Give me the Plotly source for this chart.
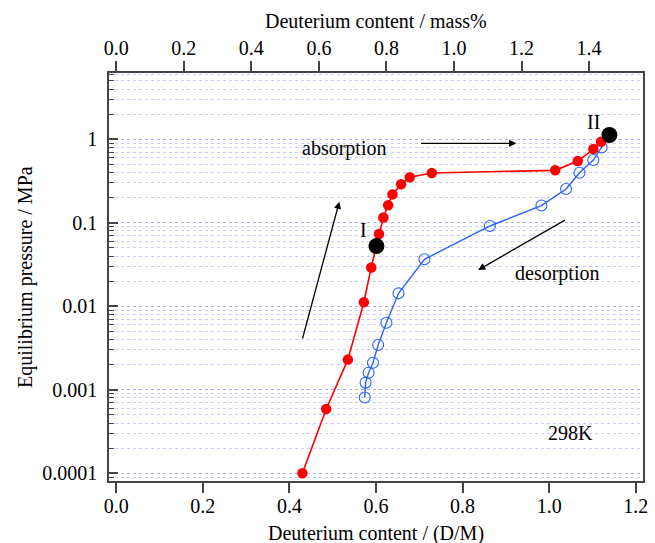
import plotly.graph_objects as go

# ---- data ----
abs_x = [0.430, 0.485, 0.535, 0.572, 0.589, 0.607, 0.617, 0.628, 0.638, 0.658, 0.678, 0.729, 1.014, 1.066, 1.102, 1.120]
abs_p = [1.0e-4, 5.9e-4, 2.3e-3, 0.0112, 0.0292, 0.0734, 0.116, 0.162, 0.219, 0.289, 0.351, 0.395, 0.425, 0.549, 0.765, 0.936]

des_x = [1.139, 1.121, 1.102, 1.070, 1.039, 0.982, 0.863, 0.712, 0.652, 0.624, 0.605, 0.593, 0.583, 0.576, 0.574]
des_p = [1.125, 0.80, 0.565, 0.398, 0.254, 0.161, 0.0916, 0.0366, 0.0143, 0.00636, 0.00344, 0.00211, 0.0016, 0.00122, 0.00081]

key_x = [0.601, 1.139]
key_p = [0.0527, 1.125]
key_labels = ["I", "II"]

x_ticks = [0.0, 0.2, 0.4, 0.6, 0.8, 1.0, 1.2]
top_ticks = [0.0, 0.2, 0.4, 0.6, 0.8, 1.0, 1.2, 1.4]
y_ticks = [1e-4, 1e-3, 1e-2, 1e-1, 1]
y_ticktext = ["0.0001", "0.001", "0.01", "0.1", "1"]
mass_per_dm = 1.2818  # mass% per D/M on the top axis

FONT = "Liberation Serif"
AX = "#444444"
GRID = "rgba(120,120,245,0.38)"
RED = "#ff0000"
BLUE = "#2a62ff"

x_range = [-0.0167, 1.2167]
y_range = [-4.092, 0.794]

fig = go.Figure()
fig.add_trace(go.Scatter(
    x=des_x, y=des_p, mode="lines+markers",
    line=dict(color=BLUE, width=1.4),
    marker=dict(symbol="circle-open", size=11, color=BLUE, line=dict(width=1.1, color=BLUE)),
    showlegend=False))
fig.add_trace(go.Scatter(
    x=abs_x, y=abs_p, mode="lines+markers",
    line=dict(color=RED, width=1.6),
    marker=dict(symbol="circle", size=10.5, color=RED),
    showlegend=False))
fig.add_trace(go.Scatter(
    x=key_x, y=key_p, mode="markers",
    marker=dict(symbol="circle", size=16, color="black"),
    showlegend=False))
# invisible trace that carries the top (mass%) axis
fig.add_trace(go.Scatter(
    x=[v * mass_per_dm for v in abs_x], y=abs_p, xaxis="x2", yaxis="y",
    mode="markers", marker=dict(opacity=0, size=1), hoverinfo="skip", showlegend=False))

fig.update_layout(
    width=655, height=543,
    margin=dict(l=109, r=7, t=73, b=62),
    paper_bgcolor="white", plot_bgcolor="white",
    font=dict(family=FONT, size=20, color="black"),
    xaxis=dict(
        range=x_range, tickvals=x_ticks, ticktext=[f"{v:.1f}" for v in x_ticks],
        ticks="outside", ticklen=10, tickwidth=1.5, tickcolor=AX,
        showline=True, linecolor=AX, linewidth=1.5,
        showgrid=False, zeroline=False, ticklabelstandoff=-4,
        tickfont=dict(family=FONT, size=20, color="black"),
    ),
    xaxis2=dict(
        overlaying="x", side="top", anchor="y",
        range=[x_range[0] * mass_per_dm, x_range[1] * mass_per_dm],
        tickvals=top_ticks, ticktext=[f"{v:.1f}" for v in top_ticks],
        ticks="outside", ticklen=10, tickwidth=1.5, tickcolor=AX,
        showline=True, linecolor=AX, linewidth=1.5,
        showgrid=False, zeroline=False, ticklabelstandoff=-2,
        tickfont=dict(family=FONT, size=20, color="black"),
    ),
    yaxis=dict(
        type="log", range=y_range, tickvals=y_ticks, ticktext=y_ticktext,
        ticks="inside", ticklen=9, tickwidth=1.5, tickcolor=AX,
        showline=True, linecolor=AX, linewidth=1.5, mirror=True,
        showgrid=True, gridcolor=GRID, griddash="dot", gridwidth=1,
        zeroline=False,
        ticklabelstandoff=6,
        tickfont=dict(family=FONT, size=20, color="black"),
        minor=dict(ticks="inside", ticklen=5, tickwidth=1.2, tickcolor=AX,
                   dtick="D1", showgrid=True, gridcolor=GRID, griddash="dot", gridwidth=1),
    ),
)

ann = []
# axis titles
ann.append(dict(text="Deuterium content / (D/M)", xref="paper", yref="paper", x=0.5, y=0,
                yanchor="middle", yshift=-52, showarrow=False))
ann.append(dict(text="Deuterium content / mass%", xref="paper", yref="paper", x=0.5, y=1,
                yanchor="middle", yshift=52, showarrow=False))
ann.append(dict(text="Equilibrium pressure / MPa", xref="paper", yref="paper", x=0, y=0.5,
                xanchor="center", xshift=-84, textangle=-90, showarrow=False))
# in-plot texts (y given as log10 for log axis)
ann.append(dict(text="absorption", x=0.5256, y=-0.105, xref="x", yref="y", showarrow=False))
ann.append(dict(text="desorption", x=1.019, y=-1.605, xref="x", yref="y", showarrow=False))
ann.append(dict(text="298K", x=1.0497, y=-3.521, xref="x", yref="y", showarrow=False))
ann.append(dict(text=key_labels[0], x=0.5714, y=-1.086, xref="x", yref="y", showarrow=False))
ann.append(dict(text=key_labels[1], x=1.103, y=0.211, xref="x", yref="y", showarrow=False))
# arrows
for hx, hy, ax, ay in [(0.5153, -0.747, -37.2, 138.3),
                       (0.924, -0.048, -96.7, 0.0),
                       (0.836, -1.565, 88.3, -50.7)]:
    ann.append(dict(text="", x=hx, y=hy, xref="x", yref="y", ax=ax, ay=ay,
                    showarrow=True, arrowhead=2, arrowsize=1.1, arrowwidth=1.3,
                    arrowcolor="black"))
fig.update_layout(annotations=ann)

fig.write_html("out.html", config={"displayModeBar": False},
               post_script="document.body.style.margin='0';")
